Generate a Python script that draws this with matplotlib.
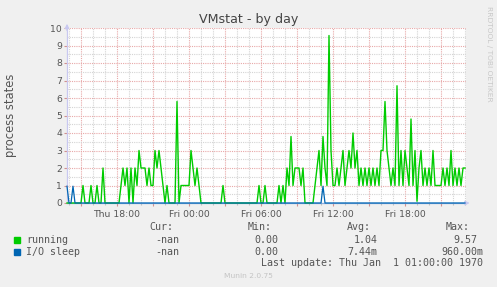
import numpy as np
import pandas as pd
import matplotlib
matplotlib.use("Agg")
import matplotlib.pyplot as plt
import matplotlib.dates as mdates
from matplotlib.ticker import MultipleLocator, FuncFormatter
from matplotlib.patches import Rectangle

# 10 minute samples starting Thu 13:50
start = "2024-01-04 13:50"
running = [
    0, 0, 0, 0, 0, 0, 0, 0, 1, 0,
    0, 0, 1, 0, 0, 1, 0, 0, 2, 0,
    0, 0, 0, 0, 0, 0, 0, 1, 2, 1,
    2, 0, 2, 0, 2, 1, 3, 2, 2, 2,
    1, 2, 1, 1, 3, 2, 3, 2, 1, 0,
    1, 0, 0, 0, 0, 5.8, 0, 1, 1, 1,
    1, 1, 3, 2, 1, 2, 1, 0, 0, 0,
    0, 0, 0, 0, 0, 0, 0, 0, 1, 0,
    0, 0, 0, 0, 0, 0, 0, 0, 0, 0,
    0, 0, 0, 0, 0, 0, 1, 0, 0, 1,
    0, 0, 0, 0, 0, 0, 1, 0, 1, 0,
    2, 1, 3.8, 1, 2, 2, 2, 1, 2, 0,
    0, 0, 0, 0, 1, 2, 3, 1, 3.8, 2,
    1, 9.57, 3, 1, 1, 2, 1, 2, 3, 1,
    2, 3, 2, 4, 2, 3, 1, 2, 1, 2,
    1, 2, 1, 2, 1, 2, 1, 3, 3, 5.8,
    3, 2, 1, 2, 1, 6.7, 1, 3, 1, 3,
    2, 1, 4.8, 1, 3, 0.1, 2, 3, 1, 2,
    1, 2, 1, 3, 1, 1, 1, 1, 2, 1,
    2, 1, 3, 1, 2, 1, 2, 1, 2, 2,
]
io_sleep = [0.0] * len(running)
io_sleep[0] = 0.96
io_sleep[3] = 0.96
io_sleep[128] = 0.96

series_names = ["running", "I/O sleep"]
series_colors = ["#00CC00", "#0066B3"]
cur_vals = ["-nan", "-nan"]
min_vals = ["0.00", "0.00"]
avg_vals = ["1.04", "7.44m"]
max_vals = ["9.57", "960.00m"]

W, H = 497, 287
fig = plt.figure(figsize=(W / 100, H / 100), dpi=100)
fig.patch.set_facecolor("#F0F0F0")


def fx(x):
    return x / W


def fy(y):
    return 1 - y / H


ax = fig.add_axes([fx(67), fy(203), (466 - 67) / W, 175 / H])
ax.set_facecolor("white")

times = pd.date_range(start, periods=len(running), freq="10min")
ax.plot(times, running, color=series_colors[0], lw=1.0, clip_on=False, zorder=3)
ax.plot(times, io_sleep, color=series_colors[1], lw=0.9, clip_on=False, zorder=4)

t0 = pd.Timestamp(start)
ax.set_xlim(t0, t0 + pd.Timedelta(hours=33.25))
ax.set_ylim(0, 10)

# grid
ax.yaxis.set_major_locator(MultipleLocator(1))
ax.yaxis.set_minor_locator(MultipleLocator(0.5))
ax.xaxis.set_major_locator(mdates.HourLocator(byhour=range(0, 24, 3)))
ax.xaxis.set_minor_locator(mdates.HourLocator())


def xfmt(v, pos):
    d = mdates.num2date(v)
    if d.hour % 6 == 0:
        return d.strftime("%a %H:%M")
    return ""


ax.xaxis.set_major_formatter(FuncFormatter(xfmt))
ax.set_axisbelow(True)
ax.grid(which="major", color="#E8A8A8", ls=(0, (1, 1)), lw=0.8)
ax.grid(which="minor", color="#D4D4D4", ls=(0, (1, 1)), lw=0.8)

for s in ["top", "right"]:
    ax.spines[s].set_visible(False)
ax.spines["left"].set_color("#C8C8F0")
ax.spines["bottom"].set_color("#8FB0E0")
ax.spines["left"].set_linewidth(0.9)
ax.spines["bottom"].set_linewidth(0.9)

ax.tick_params(axis="both", which="major", labelsize=6.7, labelcolor="#555555",
               color="#D09090", length=2, width=0.8)
ax.tick_params(axis="both", which="minor", color="#C0C0C0", length=1.5, width=0.8)
ax.tick_params(axis="x", which="major", pad=3)
ax.tick_params(axis="y", which="major", pad=1.5)
ax.tick_params(axis="y", which="minor", length=0)

# axis arrows
ax.annotate("", xy=(0, 1.04), xytext=(0, 0.97), xycoords="axes fraction",
            arrowprops=dict(arrowstyle="-|>", color="#C8C8F0", lw=0.9,
                            mutation_scale=6), annotation_clip=False)
ax.annotate("", xy=(1.016, 0), xytext=(0.99, 0), xycoords="axes fraction",
            arrowprops=dict(arrowstyle="-|>", color="#C8C8F0", lw=0.9,
                            mutation_scale=6), annotation_clip=False)

# titles
fig.text(0.5, fy(19), "VMstat - by day", ha="center", va="center",
         fontsize=9.1, color="#444444")
fig.text(fx(11), fy(115), "process states", ha="center", va="center",
         rotation=90, fontsize=8.3, color="#555555")
fig.text(fx(488.5), fy(53.5), "RRDTOOL / TOBI OETIKER", ha="center", va="center",
         rotation=270, fontsize=5.4, color="#C8C8C8")

# legend table
mono = dict(family="DejaVu Sans Mono", fontsize=7.2, color="#555555", va="center")
header_y = 227
for label, xr in zip(["Cur:", "Min:", "Avg:", "Max:"], [173, 272, 371, 470]):
    fig.text(fx(xr), fy(header_y), label, ha="right", **mono)

row_y = [240, 252]
for i, name in enumerate(series_names):
    y = row_y[i]
    fig.patches.append(Rectangle((fx(14), fy(y + 3)), 6 / W, 6 / H,
                                 transform=fig.transFigure, color=series_colors[i]))
    fig.text(fx(26.5), fy(y), name, ha="left", **mono)
    fig.text(fx(179), fy(y), cur_vals[i], ha="right", **mono)
    fig.text(fx(278.5), fy(y), min_vals[i], ha="right", **mono)
    fig.text(fx(377.5), fy(y), avg_vals[i], ha="right", **mono)
    mx = max_vals[i]
    fig.text(fx(483 if mx.endswith("m") else 477), fy(y), mx, ha="right", **mono)

fig.text(fx(483), fy(263.5), "Last update: Thu Jan  1 01:00:00 1970", ha="right", **mono)
fig.text(0.5, fy(276), "Munin 2.0.75", ha="center", va="center",
         fontsize=5.4, color="#C4C4C4")

fig.savefig("out.png", dpi=100, facecolor=fig.get_facecolor())
